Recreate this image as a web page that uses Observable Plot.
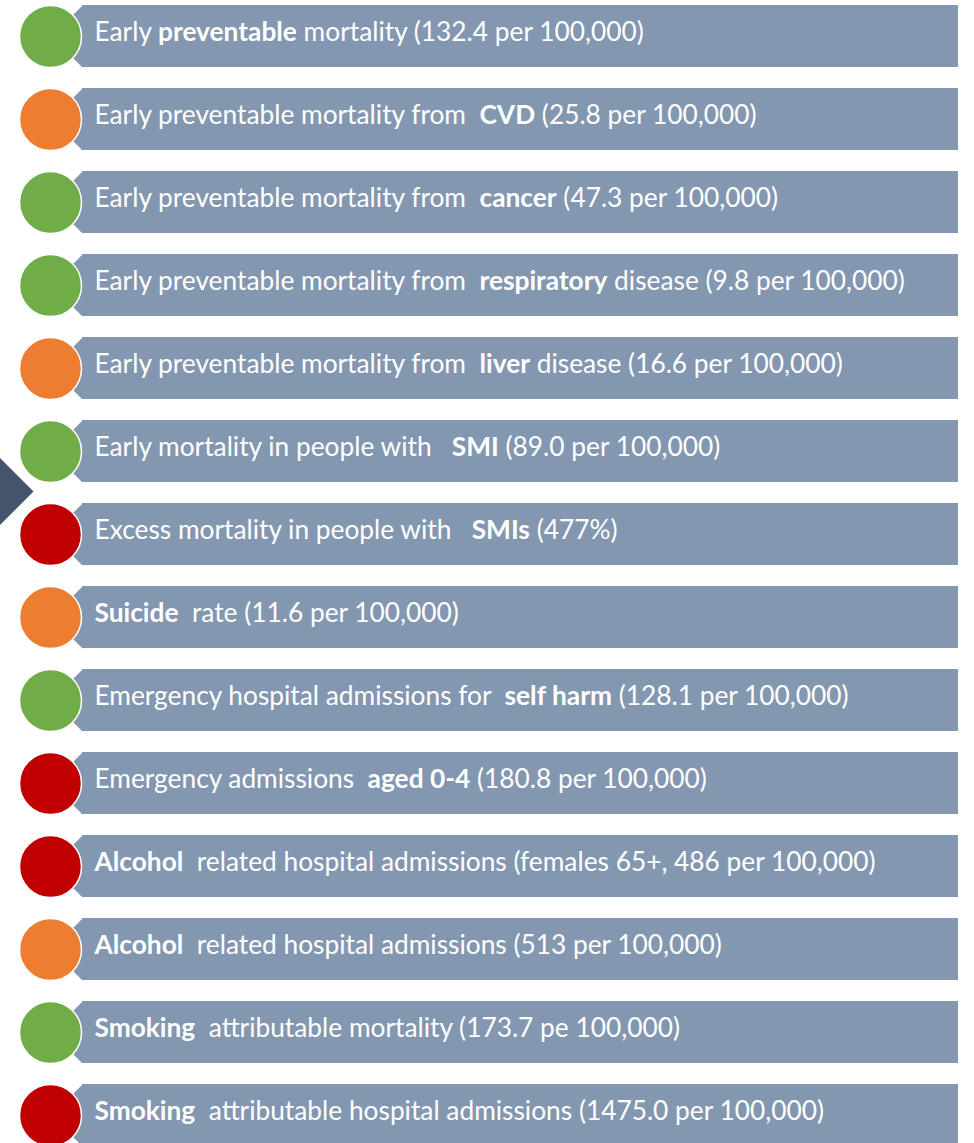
<!DOCTYPE html>
<html><head><meta charset="utf-8">
<script src="https://cdn.jsdelivr.net/npm/d3@7"></script>
<script src="https://cdn.jsdelivr.net/npm/@observablehq/plot@0.6"></script>
<style>
html,body{margin:0;padding:0;background:#fff;}
#chart svg{display:block;}
#chart text{white-space:pre;}
</style></head><body><div id="chart"></div>
<script>
// Indicator labels (bold parts wrapped in **)
const labels = [
  "Early **preventable** mortality (132.4 per 100,000)",
  "Early preventable mortality from  **CVD** (25.8 per 100,000)",
  "Early preventable mortality from  **cancer** (47.3 per 100,000)",
  "Early preventable mortality from  **respiratory** disease (9.8 per 100,000)",
  "Early preventable mortality from  **liver** disease (16.6 per 100,000)",
  "Early mortality in people with   **SMI** (89.0 per 100,000)",
  "Excess mortality in people with   **SMIs** (477%)",
  "**Suicide**  rate (11.6 per 100,000)",
  "Emergency hospital admissions for  **self harm** (128.1 per 100,000)",
  "Emergency admissions  **aged 0-4** (180.8 per 100,000)",
  "**Alcohol**  related hospital admissions (females 65+, 486 per 100,000)",
  "**Alcohol**  related hospital admissions (513 per 100,000)",
  "**Smoking**  attributable mortality (173.7 pe 100,000)",
  "**Smoking**  attributable hospital admissions (1475.0 per 100,000)"
];
// RAG status of each indicator
const statuses = ["green","amber","green","green","amber","green","red","amber","green","red","red","amber","green","red"];
const statusNames = ["green","amber","red"];
const statusColors = ["#70ad47","#ed7d31","#c00000"];

const rows = labels.map((raw, i) => ({i, raw, plain: raw.replace(/\*\*/g, ""), status: statuses[i]}));

// layout
const W = 974, H = 1143;
const bannerFill = "#8497b0";
const fontFamily = "Lato, 'Open Sans', sans-serif";

// diamond symbol (square rotated 45°), half-diagonal = r
const diamond = {draw(ctx, size) {
  const r = Math.sqrt(size / Math.PI);
  ctx.moveTo(-r, 0); ctx.lineTo(0, -r); ctx.lineTo(r, 0); ctx.lineTo(0, r); ctx.closePath();
}};

const step = 83.08, band = 62;
const chart = Plot.plot({
  width: W, height: H,
  margin: 0,
  x: {domain: [0, W], range: [0, W], axis: null},
  y: {type: "band", domain: rows.map(d => d.i), range: [4, 4 + rows.length * step - (step - band)],
      paddingInner: (step - band) / step, paddingOuter: 0, axis: null},
  color: {domain: statusNames, range: statusColors},
  marks: [
    // navy pointer at left edge, between rows 6 and 7
    Plot.dot([rows[6]], {x: -2, y: "i", dy: -43, r: 35, symbol: diamond, fill: "#44546a", stroke: "none"}),
    // banner pointed end
    Plot.dot(rows, {x: 82, y: "i", r: band / 2, symbol: diamond, fill: bannerFill, stroke: "none"}),
    // banner body
    Plot.barX(rows, {x1: 82, x2: 958, y: "i", fill: bannerFill}),
    // status circles
    Plot.dot(rows, {x: 50, y: "i", r: 31, fill: "status", stroke: "white", strokeWidth: 1.5}),
    // labels
    Plot.text(rows, {x: 94, y: "i", text: "plain", textAnchor: "start", fill: "white",
      fontSize: 26.3, fontFamily, dy: -4})
  ]
});

// apply bold segments
const svgNS = "http://www.w3.org/2000/svg";
chart.querySelectorAll("text").forEach((t, k) => {
  const raw = rows[k].raw;
  t.textContent = "";
  t.setAttribute("xml:space", "preserve");
  raw.split("**").forEach((seg, j) => {
    if (!seg) return;
    const ts = document.createElementNS(svgNS, "tspan");
    ts.textContent = seg;
    if (j % 2) ts.setAttribute("font-weight", "bold");
    t.appendChild(ts);
  });
});
document.getElementById("chart").appendChild(chart);
</script>
</body></html>
